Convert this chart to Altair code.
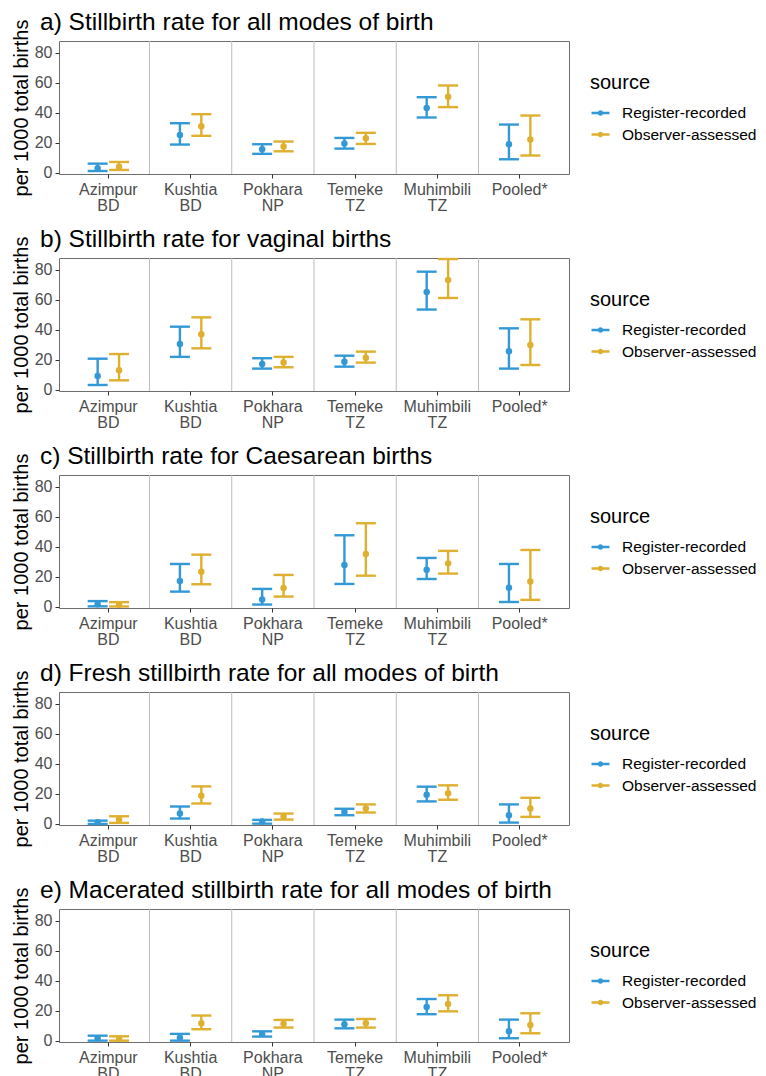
import altair as alt
import pandas as pd

sites = ["Azimpur BD", "Kushtia BD", "Pokhara NP", "Temeke TZ", "Muhimbili TZ", "Pooled*"]
sources = ["Register-recorded", "Observer-assessed"]
colors = ["#3399D6", "#DFAF2F"]

titles = [
    "a) Stillbirth rate for all modes of birth",
    "b) Stillbirth rate for vaginal births",
    "c) Stillbirth rate for Caesarean births",
    "d) Fresh stillbirth rate for all modes of birth",
    "e) Macerated stillbirth rate for all modes of birth",
]

# panel a
a_reg_est = [3.1, 25.3, 15.8, 19.6, 43.3, 19.1]
a_reg_lo = [1.3, 18.9, 12.7, 16.2, 36.9, 9.1]
a_reg_hi = [6.2, 33.1, 19.1, 23.3, 50.4, 32.2]
a_obs_est = [4.2, 31.1, 17.6, 23.1, 50.7, 22.2]
a_obs_lo = [2.0, 24.7, 14.4, 19.3, 43.8, 11.6]
a_obs_hi = [7.3, 39.1, 20.9, 26.7, 58.2, 38.2]
# panel b
b_reg_est = [9.3, 30.6, 17.3, 18.8, 65.2, 25.7]
b_reg_lo = [3.3, 22.0, 14.2, 15.5, 53.5, 14.2]
b_reg_hi = [20.8, 42.1, 21.1, 22.8, 78.7, 41.0]
b_obs_est = [13.1, 37.0, 18.2, 21.5, 73.1, 29.9]
b_obs_lo = [6.4, 27.7, 15.1, 18.2, 61.2, 16.6]
b_obs_hi = [23.9, 48.3, 22.0, 25.5, 87.1, 47.0]
# panel c
c_reg_est = [1.8, 17.3, 4.9, 27.9, 24.8, 12.8]
c_reg_lo = [0.4, 10.2, 1.6, 15.3, 18.6, 3.3]
c_reg_hi = [3.9, 28.6, 12.0, 47.7, 32.6, 28.6]
c_obs_est = [1.5, 23.5, 12.6, 35.3, 29.0, 17.0]
c_obs_lo = [0.3, 15.1, 6.9, 20.8, 22.2, 4.7]
c_obs_hi = [3.2, 34.8, 21.3, 55.7, 37.3, 37.9]
# panel d
d_reg_est = [1.1, 6.9, 1.6, 8.0, 19.4, 5.8]
d_reg_lo = [0.0, 3.6, 0.2, 5.8, 15.0, 0.9]
d_reg_hi = [2.2, 11.6, 2.7, 10.1, 24.8, 13.0]
d_obs_est = [2.9, 18.8, 4.9, 10.3, 20.5, 10.3]
d_obs_lo = [0.7, 13.6, 2.9, 7.6, 16.1, 4.7]
d_obs_hi = [5.1, 25.0, 6.9, 13.0, 25.7, 17.4]
# panel e
e_reg_est = [1.8, 2.2, 4.7, 11.1, 22.6, 6.4]
e_reg_lo = [0.2, 0.2, 2.9, 8.4, 17.8, 1.8]
e_reg_hi = [3.5, 4.7, 6.4, 14.2, 27.9, 14.2]
e_obs_est = [1.5, 11.8, 11.5, 11.8, 24.6, 10.6]
e_obs_lo = [0.2, 7.8, 8.9, 8.9, 19.7, 5.1]
e_obs_hi = [3.1, 16.9, 14.0, 14.6, 30.4, 18.4]

panels = [
    (a_reg_est, a_reg_lo, a_reg_hi, a_obs_est, a_obs_lo, a_obs_hi),
    (b_reg_est, b_reg_lo, b_reg_hi, b_obs_est, b_obs_lo, b_obs_hi),
    (c_reg_est, c_reg_lo, c_reg_hi, c_obs_est, c_obs_lo, c_obs_hi),
    (d_reg_est, d_reg_lo, d_reg_hi, d_obs_est, d_obs_lo, d_obs_hi),
    (e_reg_est, e_reg_lo, e_reg_hi, e_obs_est, e_obs_lo, e_obs_hi),
]

FONT = "Liberation Sans"
YTITLE = "per 1000 total births"

sep_df = pd.DataFrame({"site": sites[1:]})


def make_panel(title, vals):
    rows = []
    for i, s in enumerate(sites):
        rows.append({"site": s, "source": sources[0], "est": vals[0][i], "lo": vals[1][i], "hi": vals[2][i]})
        rows.append({"site": s, "source": sources[1], "est": vals[3][i], "lo": vals[4][i], "hi": vals[5][i]})
    df = pd.DataFrame(rows)

    xscale = alt.Scale(domain=sites, paddingInner=0, paddingOuter=0.1)
    xaxis = alt.Axis(title=None, labelAngle=0, labelExpr="split(datum.label, ' ')",
                     labelFontSize=16, labelLineHeight=16, labelColor="#4D4D4D",
                     tickColor="#333333", tickSize=4, labelPadding=3, domain=False, grid=False)
    x = alt.X("site:N", sort=sites, scale=xscale, axis=xaxis)
    xo = alt.XOffset("source:N", sort=sources,
                     scale=alt.Scale(domain=sources, paddingInner=0, paddingOuter=0.92))
    yscale = alt.Scale(domain=[-0.7, 87.8], nice=False, zero=False)
    yaxis = alt.Axis(title=YTITLE, values=[0, 20, 40, 60, 80], labelFontSize=16,
                     labelColor="#4D4D4D", tickColor="#333333", tickSize=4, labelPadding=3,
                     titleFontSize=20, titleFontWeight="normal", titleColor="black",
                     titlePadding=3, domain=False, grid=False)
    cscale = alt.Scale(domain=sources, range=colors)

    def ych(field):
        return alt.Y(f"{field}:Q", scale=yscale, axis=yaxis)

    base = alt.Chart(df)
    seps = alt.Chart(sep_df).mark_rule(color="#BDBDBD", strokeWidth=1).encode(
        x=alt.X("site:N", sort=sites, scale=xscale, axis=xaxis, bandPosition=0)
    )
    legend = alt.Legend(
        title="source", orient="none", legendX=531, legendY=31.5,
        titleFontSize=20, titleFontWeight="normal", titleColor="black", titlePadding=10,
        labelFontSize=15.5, labelColor="black", labelOffset=11,
        symbolType="M-1,0H1M-0.17,0A0.17,0.17,0,1,1,0.17,0A0.17,0.17,0,1,1,-0.17,0Z",
        symbolSize=324, symbolStrokeWidth=2.4, rowPadding=2.5,
    )
    rules = base.mark_rule(strokeWidth=2.4).encode(
        x=x, xOffset=xo, y=ych("lo"), y2="hi:Q",
        color=alt.Color("source:N", sort=sources, scale=cscale, legend=legend),
    )
    col_nolegend = alt.Color("source:N", sort=sources, scale=cscale, legend=None)
    cap_lo = base.mark_tick(size=20, thickness=2.4, opacity=1).encode(
        x=x, xOffset=xo, y=ych("lo"), color=col_nolegend)
    cap_hi = base.mark_tick(size=20, thickness=2.4, opacity=1).encode(
        x=x, xOffset=xo, y=ych("hi"), color=col_nolegend)
    pts = base.mark_circle(size=42, opacity=1).encode(
        x=x, xOffset=xo, y=ych("est"), color=col_nolegend)

    return alt.layer(seps, rules, cap_lo, cap_hi, pts).properties(
        width=510, height=133,
        title=alt.TitleParams(title, anchor="start", frame="group", dx=-19, fontSize=24.5,
                              fontWeight="normal", color="black", offset=-16.5),
    )


charts = [make_panel(t, v) for t, v in zip(titles, panels)]

chart = alt.vconcat(*charts, spacing=12).resolve_scale(color="independent").properties(
    padding={"left": 2, "top": 1, "right": 0, "bottom": 5}
).configure(
    font=FONT
).configure_view(stroke="#6E6E6E", strokeWidth=1).configure_title(font=FONT).configure_axis(
    labelFont=FONT, titleFont=FONT
).configure_legend(labelFont=FONT, titleFont=FONT)

chart.save("out.html", embed_options={"renderer": "svg", "actions": False})
